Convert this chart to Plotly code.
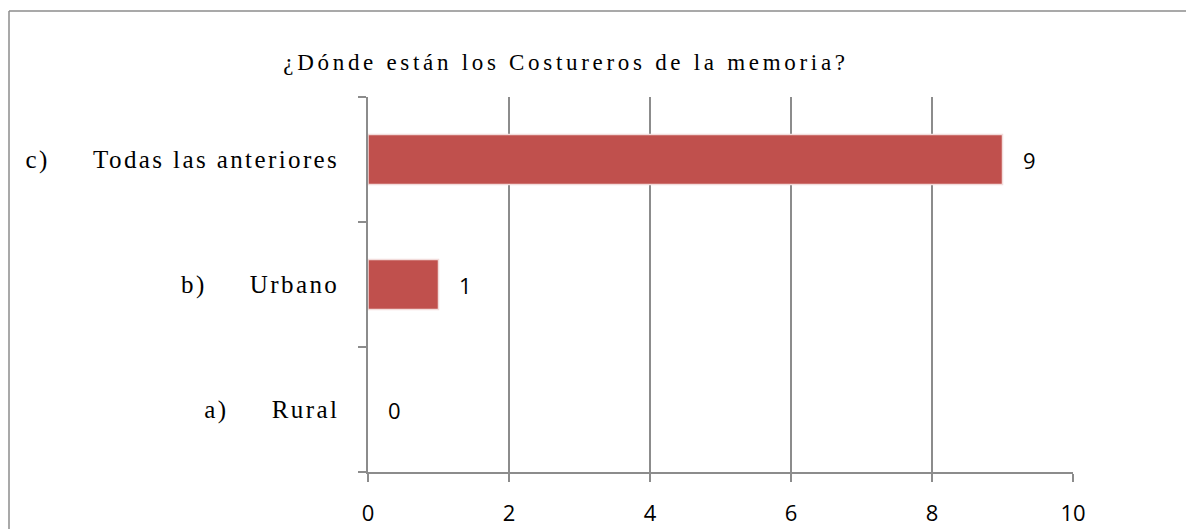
import plotly.graph_objects as go

categories = ["a)", "b)", "c)"]
labels = ["Rural", "Urbano", "Todas las anteriores"]
values = [0, 1, 9]
title_text = "¿Dónde están los Costureros de la memoria?"
x_ticks = [0, 2, 4, 6, 8, 10]

BAR = "#C0504D"
GRID = "#8C8C8C"
NB = "\u00a0"

W, H = 1186, 529
PL, PR, PT, PB = 368, 1073, 97, 472


def cat_label(letter, text):
    return ('<span style="letter-spacing:2.4px">' + letter + NB * 5 + text + '</span>')


ticktext = [cat_label(c, l) for c, l in zip(categories, labels)]

fig = go.Figure()
fig.add_trace(go.Bar(
    y=categories, x=values, orientation="h",
    marker=dict(color=BAR, line=dict(color="#F2DCDB", width=[1.5 if v > 0 else 0 for v in values])),
    width=0.4, hoverinfo="skip",
))

for c, v in zip(categories, values):
    fig.add_annotation(x=v, y=c, text=str(v), showarrow=False, xanchor="left",
                       xshift=18, font=dict(family="Open Sans", size=22, color="#000"))

fig.update_layout(
    width=W, height=H,
    margin=dict(l=PL, r=W - PR, t=PT, b=H - PB, autoexpand=False),
    paper_bgcolor="white", plot_bgcolor="white",
    showlegend=False,
    title=dict(text='<span style="letter-spacing:3.7px">' + title_text + '</span>',
               x=566 / W, xanchor="center", y=1 - 62 / H, yanchor="middle",
               font=dict(family="Liberation Serif", size=23, color="#000")),
    xaxis=dict(range=[0, 10], tickvals=x_ticks, showgrid=True, gridcolor=GRID, gridwidth=1.5,
               zeroline=False, showline=True, linecolor=GRID, linewidth=1.5, automargin=False,
               ticks="outside", ticklen=8, tickcolor=GRID, tickwidth=1.5,
               tickfont=dict(family="Open Sans", size=22, color="#000"), ticklabelstandoff=13),
    yaxis=dict(categoryorder="array", categoryarray=categories, tickvals=categories, ticktext=ticktext,
               showgrid=False, zeroline=False, showline=True, linecolor=GRID, linewidth=1.5,
               automargin=False,
               ticks="outside", tickson="boundaries", ticklen=8, tickcolor=GRID, tickwidth=1.5,
               tickfont=dict(family="Liberation Serif", size=25, color="#000"), ticklabelstandoff=22,
               range=[-0.5, 2.5]),
)

# outer chart border: only its left and top edges fall inside the picture
pw, ph = PR - PL, PB - PT
bx = (9 - PL) / pw
by = 1 + (PT - 11) / ph
border = dict(color="#8C8C8C", width=1.5)
fig.add_shape(type="line", xref="paper", yref="paper", x0=bx, x1=bx, y0=-0.5, y1=by, line=border)
fig.add_shape(type="line", xref="paper", yref="paper", x0=bx, x1=1.5, y0=by, y1=by, line=border)

fig.write_html("out.html", config={"displayModeBar": False},
               post_script="document.body.style.margin='0px';document.body.style.overflow='hidden';")
